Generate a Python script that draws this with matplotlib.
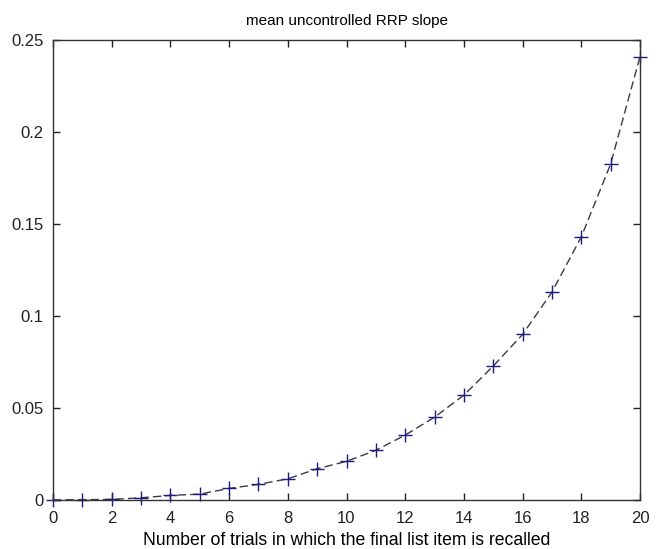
import matplotlib
matplotlib.use('Agg')
import matplotlib.pyplot as plt

plt.rcParams['font.family'] = ['Liberation Sans', 'DejaVu Sans']

# number of trials with final item recalled
trials = list(range(0, 21))
slope = [0.0, 0.0002, 0.0003, 0.0012, 0.0025, 0.0032, 0.0063, 0.0085, 0.0115,
         0.017, 0.021, 0.027, 0.0353, 0.045, 0.057, 0.0728, 0.090, 0.113,
         0.143, 0.1826, 0.241]

xticks = list(range(0, 21, 2))
yticks = [0, 0.05, 0.1, 0.15, 0.2, 0.25]
yticklabels = ['0', '0.05', '0.1', '0.15', '0.2', '0.25']

fig = plt.figure(figsize=(6.6, 5.49), dpi=100)
ax = fig.add_axes([53/660, 49/549, 587/660, 460/549])

ax.plot(trials, slope, linestyle=(0, (6, 3)), color='#3a3a48', linewidth=1.0)
ax.plot(trials, slope, linestyle='none', marker='+', markersize=10,
        markeredgewidth=1.0, color='#1c1c80', clip_on=False)

ax.set_xlim(0, 20)
ax.set_ylim(0, 0.25)
ax.set_xticks(xticks)
ax.set_yticks(yticks)
ax.set_yticklabels(yticklabels)
ax.tick_params(direction='in', top=True, right=True, length=5, width=1,
               labelsize=12, colors='#222222')
ax.tick_params(axis='x', pad=8)
ax.tick_params(axis='y', pad=7)
for sp in ax.spines.values():
    sp.set_color('#333333')
    sp.set_linewidth(1.0)

ax.set_title('mean uncontrolled RRP slope', fontsize=11, pad=11)
ax.set_xlabel('Number of trials in which the final list item is recalled', fontsize=12.7, labelpad=4)

fig.savefig('out.png', dpi=100)
